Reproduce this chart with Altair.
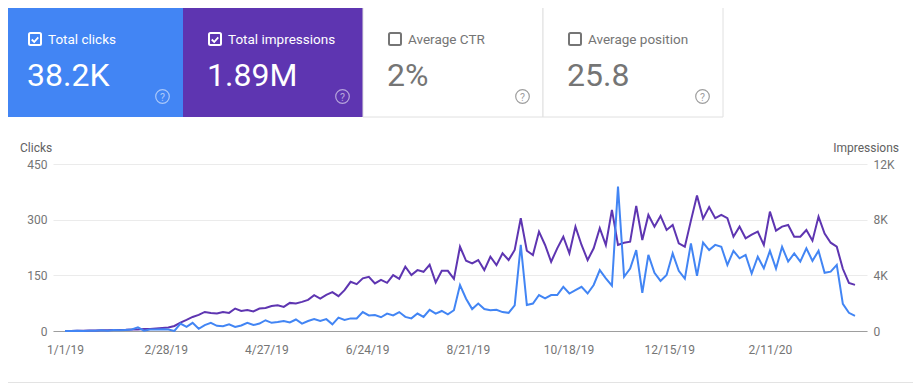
import altair as alt
import pandas as pd

# ---------------- data ----------------
start_date = "2019-01-01"   # one point every 3.5 days (half a week)
clicks = [
    0, 0, 1, 0, 1, 1, 2, 1, 3, 2,
    3, 4, 10, 1, 4, 4, 5, 4, 0, 20,
    11, 22, 6, 16, 22, 14, 13, 18, 11, 15,
    22, 16, 20, 29, 22, 24, 27, 23, 31, 20,
    27, 32, 27, 32, 18, 36, 30, 34, 34, 51,
    42, 43, 37, 47, 42, 51, 38, 34, 47, 38,
    57, 47, 54, 45, 56, 124, 87, 59, 74, 59,
    56, 57, 51, 49, 69, 232, 70, 74, 97, 88,
    97, 97, 119, 101, 110, 119, 101, 124, 164, 142,
    122, 389, 146, 168, 218, 103, 205, 157, 135, 151,
    209, 162, 141, 236, 149, 238, 218, 232, 227, 178,
    216, 196, 205, 155, 200, 169, 216, 168, 227, 187,
    209, 187, 223, 189, 216, 157, 160, 178, 73, 49,
    41,
]
impressions = [
    0, 0, 20, 20, 35, 35, 50, 50, 70, 70,
    85, 110, 110, 145, 145, 180, 215, 245, 360, 605,
    795, 1010, 1155, 1370, 1300, 1255, 1370, 1300, 1615, 1440,
    1515, 1405, 1615, 1660, 1800, 1855, 1730, 2020, 1970, 2090,
    2235, 2575, 2330, 2595, 2790, 2500, 2935, 3535, 3365, 3780,
    3895, 3420, 3675, 3460, 4015, 3750, 4615, 4015, 4375, 4255,
    4760, 3490, 4325, 4325, 3750, 6055, 5045, 4860, 5100, 4375,
    5335, 4735, 5580, 5100, 5820, 8105, 5770, 5460, 7140, 6180,
    4975, 5940, 6775, 5580, 7500, 6180, 5100, 5940, 7385, 6180,
    8700, 6180, 6345, 6415, 8990, 6540, 8340, 7500, 8270, 7260,
    7620, 6300, 6055, 7930, 9735, 8075, 8900, 8105, 8340, 8105,
    6775, 7500, 6660, 6920, 7140, 6180, 8580, 7210, 7500, 7620,
    6775, 6775, 7260, 6490, 8220, 6995, 6345, 6055, 4470, 3460,
    3315,
]
x_tick_dates = [(2019, 1, 1), (2019, 2, 28), (2019, 4, 27), (2019, 6, 24),
                (2019, 8, 21), (2019, 10, 18), (2019, 12, 15), (2020, 2, 11)]
clicks_ticks = [0, 150, 300, 450]
impr_ticks = [0, 4000, 8000, 12000]
tile_labels = ["Total clicks", "Total impressions", "Average CTR", "Average position"]
tile_values = ["38.2K", "1.89M", "2%", "25.8"]
tile_checked = [True, True, False, False]

df = pd.DataFrame({
    "date": pd.date_range(start_date, periods=len(clicks), freq="84h"),
    "clicks": clicks,
    "impressions": impressions,
})

# ---------------- styling / layout ----------------
BLUE = "#4285F4"
PURPLE = "#5E35B1"
GREY_TXT = "#757575"
FONT = "Roboto"
OX, OY = 53, 164          # page position of the plot area's top-left
W, H = 814, 167

one = pd.DataFrame({"k": [0]})


def rect(x1, y1, x2, y2, **kw):
    return alt.Chart(one).mark_rect(**kw).encode(
        x=alt.value(x1 - OX), x2=alt.value(x2 - OX),
        y=alt.value(y1 - OY), y2=alt.value(y2 - OY))


def text(s, x, y, align="left", baseline="alphabetic", **kw):
    return alt.Chart(one).mark_text(text=s, align=align, baseline=baseline,
                                    font=FONT, **kw).encode(
        x=alt.value(x - OX), y=alt.value(y - OY))


def point(x, y, **kw):
    return alt.Chart(one).mark_point(**kw).encode(
        x=alt.value(x - OX), y=alt.value(y - OY))


layers = []
# card bottom shadow line
layers.append(rect(8, 382, 913, 383, color="#e3e3e3"))
# card top border
layers.append(rect(8, 7, 913, 8, color="#e6e6e6"))

tile_x = [3, 183, 363, 543, 723]
tile_fill = [BLUE, PURPLE, "white", "white"]
for i in range(4):
    x1, x2 = tile_x[i], tile_x[i + 1]
    if tile_fill[i] == "white":
        layers.append(rect(x1, 7, x2, 117, fill="white", stroke="#e0e0e0", strokeWidth=1))
    else:
        layers.append(rect(max(x1, 8), 7, x2, 117, color=tile_fill[i]))

for i in range(4):
    x0 = tile_x[i]
    on_color = tile_checked[i]
    fg = "white" if on_color else GREY_TXT
    cx = x0 + 32
    # checkbox
    layers.append(rect(cx - 6, 33, cx + 6, 45, fillOpacity=0, stroke=fg,
                       strokeWidth=2, cornerRadius=1.5))
    if tile_checked[i]:
        layers.append(point(cx, 39.5, shape="M-0.62,0 L-0.15,0.47 L0.62,-0.42",
                            size=110, filled=False, stroke="white", strokeWidth=1.8,
                            opacity=1))
    layers.append(text(tile_labels[i], x0 + 45, 43.5, fontSize=13.5, color=fg))
    layers.append(text(tile_values[i], x0 + 24, 86, fontSize=32, color=fg))
    hc = "white" if on_color else "#9e9e9e"
    ho = 0.55 if on_color else 1
    layers.append(point(x0 + 159.5, 96.5, shape="circle", size=185, filled=False,
                        stroke=hc, strokeWidth=1.2, opacity=ho))
    layers.append(text("?", x0 + 159.5, 100.5, align="center", fontSize=10.5,
                       color=hc, opacity=ho))

# axis titles
layers.append(text("Clicks", 20, 151.5, fontSize=12, color="#616161"))
layers.append(text("Impressions", 899, 151.5, align="right", fontSize=12, color="#616161"))

x_enc = alt.X(
    "date:T",
    scale=alt.Scale(domain=[alt.DateTime(year=2018, month=12, date=25, hours=2),
                            alt.DateTime(year=2020, month=4, date=6, hours=22)]),
    axis=alt.Axis(values=[alt.DateTime(year=y, month=m, date=d) for y, m, d in x_tick_dates],
                  format="%-m/%-d/%y", title=None, ticks=False, grid=False,
                  domainColor="#9e9e9e", domainWidth=1, labelPadding=13,
                  labelColor=GREY_TXT, labelFontSize=12, labelFont=FONT),
)

impr_line = alt.Chart(df).mark_line(color=PURPLE, strokeWidth=2).encode(
    x=x_enc,
    y=alt.Y("impressions:Q", scale=alt.Scale(domain=[0, 12000]),
            axis=alt.Axis(orient="right", values=impr_ticks, title=None, grid=False,
                          domain=False, ticks=False, labelPadding=6,
                          labelExpr="datum.value == 0 ? '0' : (datum.value / 1000) + 'K'",
                          labelColor=GREY_TXT, labelFontSize=12, labelFont=FONT)),
)
click_line = alt.Chart(df).mark_line(color=BLUE, strokeWidth=2).encode(
    x=x_enc,
    y=alt.Y("clicks:Q", scale=alt.Scale(domain=[0, 450]),
            axis=alt.Axis(orient="left", values=clicks_ticks, title=None, grid=True,
                          gridColor="#ebebeb", domain=False, ticks=False, labelPadding=6,
                          labelColor=GREY_TXT, labelFontSize=12, labelFont=FONT)),
)

chart = alt.layer(impr_line, click_line, *layers).resolve_scale(
    y="independent"
).properties(
    width=W, height=H,
    autosize=alt.AutoSizeParams(type="none"),
    padding={"left": OX - 8, "top": OY - 8, "right": 905 - (OX - 8) - W, "bottom": 375 - (OY - 8) - H},
    background="white",
).configure_view(stroke=None)

chart.save("out.html", embed_options={"renderer": "svg", "actions": False})
